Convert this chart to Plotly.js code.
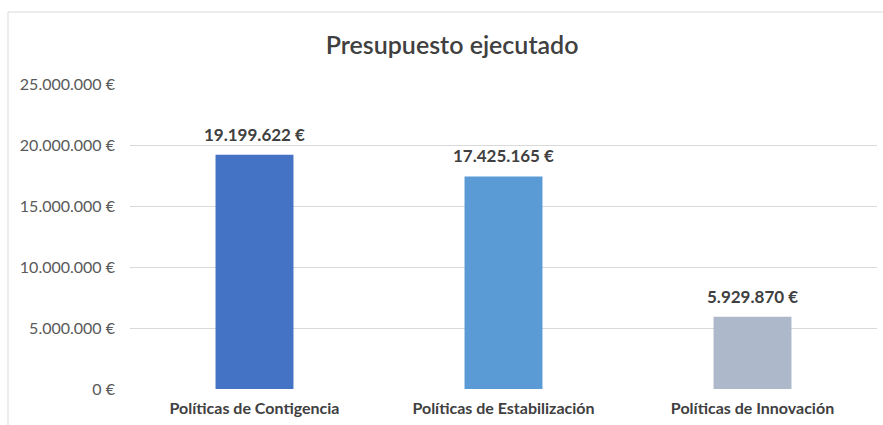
<!DOCTYPE html>
<html><head><meta charset="utf-8">
<script src="https://cdn.plot.ly/plotly-3.0.1.min.js"></script>
<style>html,body{margin:0;padding:0;background:#fff;}#chart{width:883px;height:425px;}</style>
</head><body><div id="chart"></div>
<script>
const categories = ["Políticas de Contigencia", "Políticas de Estabilización", "Políticas de Innovación"];
const values = [19199622, 17425165, 5929870];
const barColors = ["#4472C4", "#5B9BD5", "#ADB9CA"];
const tickVals = [0, 5000000, 10000000, 15000000, 20000000, 25000000];

function fmt(v){ return String(Math.round(v)).replace(/\B(?=(\d{3})+(?!\d))/g, ".") + " €"; }
const tickText = tickVals.map(fmt);

const font = "Lato, 'Open Sans', sans-serif";
const trace = {
  type: "bar", x: categories, y: values,
  marker: {color: barColors},
  hoverinfo: "none"
};
const labels = categories.map((c, i) => ({
  x: c, y: values[i], xref: "x", yref: "y", text: fmt(values[i]), showarrow: false,
  yanchor: "bottom", yshift: 8,
  font: {family: font, size: 17, color: "#404040", weight: "bold"}
}));
const layout = {
  width: 883, height: 425,
  margin: {l: 130, r: 6, t: 84, b: 36},
  paper_bgcolor: "#fff", plot_bgcolor: "#fff",
  showlegend: false, bargap: 0.687,
  title: {text: "Presupuesto ejecutado", font: {family: font, size: 25, color: "#404040", weight: 600},
          xref: "container", x: 0.512, xanchor: "center", yref: "container", y: 0.894, yanchor: "middle"},
  xaxis: {showgrid: false, zeroline: false, showline: false, ticks: "",
          ticklabelstandoff: 8,
          tickfont: {family: font, size: 16, color: "#404040", weight: "bold"}, fixedrange: true},
  yaxis: {range: [0, 25000000], tickvals: tickVals, ticktext: tickText,
          showgrid: true, gridcolor: "#d9d9d9", gridwidth: 1, zeroline: false, showline: false, ticks: "",
          ticklabelstandoff: 14,
          tickfont: {family: font, size: 16, color: "#595959"}, fixedrange: true},
  annotations: labels,
  shapes: [{type: "rect", xref: "paper", yref: "paper", x0: -0.1633, x1: 1.02, y0: -0.3, y1: 1.236,
            line: {color: "#d9d9d9", width: 1}, fillcolor: "rgba(0,0,0,0)", layer: "below"}]
};
Plotly.newPlot("chart", [trace], layout, {displayModeBar: false, staticPlot: true});
</script></body></html>
